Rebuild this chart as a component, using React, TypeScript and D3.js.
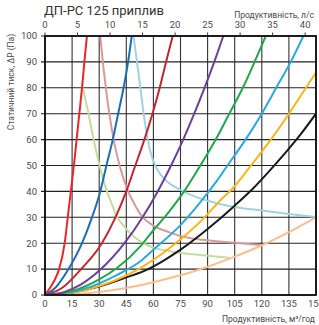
import React, { useEffect, useRef } from "react";
import * as d3 from "d3";

// axis ticks
const flowTicks = [0, 15, 30, 45, 60, 75, 90, 105, 120, 135, 150];
const litreTicks = [0, 5, 10, 15, 20, 25, 30, 35, 40];
const pressureTicks = [0, 10, 20, 30, 40, 50, 60, 70, 80, 90, 100];

// system curves [m3/h, Pa]
const redCurve = [[0, 0], [3, 3], [5.5, 6], [7.8, 10], [10.9, 20], [12.6, 30], [14.3, 40], [16, 50], [17.5, 60], [19, 70], [20.5, 80], [21.8, 90], [23.2, 100]];
const blueCurve = [[0, 0], [6, 3], [13, 10], [20.5, 20], [26, 30], [30.6, 40], [34, 50], [37.5, 60], [40.5, 70], [43.5, 80], [46, 90], [48, 100]];
const darkRedCurve = [[0, 0], [10, 3], [20, 10], [31.5, 20], [39, 30], [45, 40], [50, 50], [55, 60], [59.5, 70], [63.5, 80], [67, 90], [70.7, 100]];
const purpleCurve = [[0, 0], [10, 1], [20, 4.1], [31, 10], [44, 20], [54, 30], [62.4, 40], [69.8, 50], [76.5, 60], [82.6, 70], [88.3, 80], [93.7, 90], [98.7, 100]];
const greenCurve = [[0, 0], [15, 1.5], [30, 6], [40, 10.5], [53, 19], [60, 25], [68.5, 32], [77, 40], [86, 50], [94.5, 60], [102, 70], [109.5, 80], [116, 90], [122.2, 100]];
const skyCurve = [[0, 0], [20, 2], [40, 7.8], [52.8, 13], [60, 17.5], [75, 27], [85, 35], [95, 44], [101, 50], [111, 60], [120, 70], [128, 80], [136, 90], [143, 100]];
const yellowCurve = [[0, 0], [20, 1.5], [30, 3.5], [40, 6], [53, 10.5], [65, 16], [75, 21.5], [87, 29], [97, 36.5], [105, 42], [114, 50], [125, 60], [135, 70], [143, 78.5], [150, 86]];
const blackCurve = [[0, 0], [15, 1], [30, 3.3], [45, 6.8], [55, 9.3], [65, 13], [75, 17.5], [90, 25.5], [105, 34.5], [115, 41], [125, 48.5], [135, 56.5], [142, 62.5], [150, 70]];
const peachCurve = [[0, 0], [30, 1.2], [52.8, 3.8], [69.4, 6.6], [75, 7.6], [90, 10.9], [105, 14.8], [120.4, 19.3], [135, 24.3], [150, 30]];

// fan curves
const lightGreenFan = [[20.9, 80], [24.1, 70], [26.9, 60], [30.2, 50], [34.3, 40], [37, 35], [40, 30], [43, 27.2], [47, 24], [52, 21], [60, 18.3], [68.5, 17], [82, 15.7], [101.9, 14.4]];
const pinkFan = [[30.6, 100], [32, 90], [33.7, 80], [35.6, 70], [38, 60], [41.3, 50], [46, 40], [50, 34.5], [53, 31], [60, 26.8], [68.5, 24.3], [76, 22.6], [90, 21.1], [108, 20], [120.4, 19.2]];
const paleBlueFan = [[49, 100], [50.9, 90], [52.8, 80], [54.6, 70], [56.9, 60], [58.5, 55], [61, 50], [64, 46.5], [68, 43.5], [75, 40.6], [82, 38.3], [90, 36.4], [105, 34], [120, 32.6], [135, 31.3], [150, 30.1]];

const series = [
  { pts: paleBlueFan, color: "#9fd3e2" },
  { pts: pinkFan, color: "#d9999a" },
  { pts: lightGreenFan, color: "#c5dc9c" },
  { pts: peachCurve, color: "#f9bd8e" },
  { pts: blackCurve, color: "#1a1a1a" },
  { pts: yellowCurve, color: "#fbb415" },
  { pts: skyCurve, color: "#29a9e0" },
  { pts: greenCurve, color: "#1fa84b" },
  { pts: purpleCurve, color: "#6c3f98" },
  { pts: darkRedCurve, color: "#c1272d" },
  { pts: blueCurve, color: "#1a6eb8" },
  { pts: redCurve, color: "#e8262b" },
];

const font = "Roboto, 'Open Sans', sans-serif";
const textColor = "#4a4a4a";

const App = () => {
  const svgRef = useRef<SVGSVGElement>(null);

  useEffect(() => {
    const svg = d3.select(svgRef.current);
    svg.selectAll("*").remove();

    const x = d3.scaleLinear().domain([0, 150]).range([45, 316]);
    const y = d3.scaleLinear().domain([0, 100]).range([295, 36]);

    svg
      .append("clipPath")
      .attr("id", "plot-clip")
      .append("rect")
      .attr("x", x(0))
      .attr("y", y(100))
      .attr("width", x(150) - x(0))
      .attr("height", y(0) - y(100));

    // grid
    svg
      .append("g")
      .selectAll("line")
      .data(flowTicks)
      .enter()
      .append("line")
      .attr("x1", (d) => x(d))
      .attr("x2", (d) => x(d))
      .attr("y1", y(0))
      .attr("y2", y(100))
      .style("stroke", "#333")
      .style("stroke-width", 1.1);

    svg
      .append("g")
      .selectAll("line")
      .data(pressureTicks)
      .enter()
      .append("line")
      .attr("x1", x(0) - 4)
      .attr("x2", x(150))
      .attr("y1", (d) => y(d))
      .attr("y2", (d) => y(d))
      .style("stroke", "#222")
      .style("stroke-width", 1.1);

    // curves
    const line = d3
      .line<number[]>()
      .x((d) => x(d[0]))
      .y((d) => y(d[1]))
      .curve(d3.curveMonotoneX);

    svg
      .append("g")
      .attr("clip-path", "url(#plot-clip)")
      .selectAll("path")
      .data(series)
      .enter()
      .append("path")
      .attr("d", (d) => line(d.pts))
      .style("fill", "none")
      .style("stroke", (d) => d.color)
      .style("stroke-width", 2);

    // frame
    svg
      .append("rect")
      .attr("x", x(0))
      .attr("y", y(100))
      .attr("width", x(150) - x(0))
      .attr("height", y(0) - y(100))
      .style("fill", "none")
      .style("stroke", "#111")
      .style("stroke-width", 1.8);

    // top ticks (l/s)
    const top = svg.append("g");
    top
      .selectAll("line")
      .data(litreTicks)
      .enter()
      .append("line")
      .attr("x1", (d) => x(d * 3.6))
      .attr("x2", (d) => x(d * 3.6))
      .attr("y1", y(100) - 3.5)
      .attr("y2", y(100))
      .style("stroke", "#333")
      .style("stroke-width", 1);
    top
      .selectAll("text")
      .data(litreTicks)
      .enter()
      .append("text")
      .attr("x", (d) => x(d * 3.6))
      .attr("y", 28)
      .attr("text-anchor", "middle")
      .style("font-family", font)
      .style("font-size", "9.5px")
      .style("fill", textColor)
      .text((d) => d);

    // bottom labels
    svg
      .append("g")
      .selectAll("text")
      .data(flowTicks)
      .enter()
      .append("text")
      .attr("x", (d) => x(d))
      .attr("y", 307)
      .attr("text-anchor", "middle")
      .style("font-family", font)
      .style("font-size", "9.5px")
      .style("fill", textColor)
      .text((d) => d);

    // left labels
    svg
      .append("g")
      .selectAll("text")
      .data(pressureTicks)
      .enter()
      .append("text")
      .attr("x", 37)
      .attr("y", (d) => y(d) + 3.3)
      .attr("text-anchor", "end")
      .style("font-family", font)
      .style("font-size", "9.5px")
      .style("fill", textColor)
      .text((d) => d);

    // titles
    svg
      .append("text")
      .attr("x", 44)
      .attr("y", 15)
      .style("font-family", font)
      .style("font-size", "13px")
      .style("fill", "#333")
      .text("ДП-РС 125 приплив");

    svg
      .append("text")
      .attr("x", 314)
      .attr("y", 18)
      .attr("text-anchor", "end")
      .style("font-family", font)
      .style("font-size", "8.5px")
      .style("fill", textColor)
      .text("Продуктивність, л/с");

    svg
      .append("text")
      .attr("x", 315)
      .attr("y", 322)
      .attr("text-anchor", "end")
      .style("font-family", font)
      .style("font-size", "8.5px")
      .style("fill", textColor)
      .text("Продуктивність, м³/год");

    svg
      .append("text")
      .attr("transform", "translate(14, 82) rotate(-90)")
      .attr("text-anchor", "middle")
      .style("font-family", font)
      .style("font-size", "8.5px")
      .style("fill", textColor)
      .text("Статичний тиск, ΔP (Па)");
  }, []);

  return (
    <svg
      ref={svgRef}
      width={319}
      height={325}
      style={{ position: "absolute", left: 0, top: 0, background: "#fff" }}
    ></svg>
  );
};

export default App;
